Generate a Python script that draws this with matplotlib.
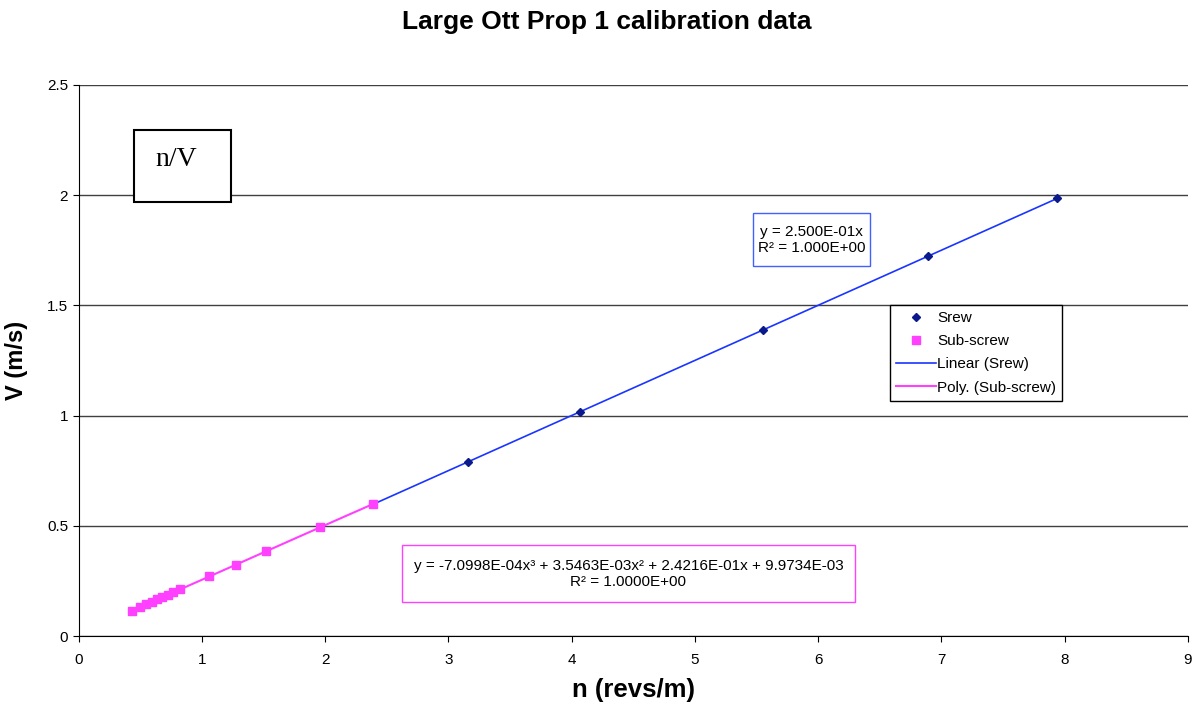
import numpy as np
import matplotlib
matplotlib.use("Agg")
import matplotlib.pyplot as plt
from matplotlib.patches import Rectangle

plt.rcParams['font.family'] = ['Liberation Sans', 'DejaVu Sans']

# Srew calibration points (n in revs/m, V in m/s)
srew_n = [2.39, 3.16, 4.07, 5.55, 6.89, 7.94]
srew_v = [0.598, 0.790, 1.017, 1.388, 1.723, 1.986]

# Sub-screw calibration points
sub_n = [0.43, 0.50, 0.55, 0.60, 0.64, 0.68, 0.73, 0.77, 0.82, 1.06, 1.28, 1.52, 1.96, 2.39]
sub_v = [0.115, 0.132, 0.144, 0.156, 0.166, 0.176, 0.188, 0.198, 0.211, 0.270, 0.324, 0.384, 0.493, 0.599]

lin_label = "y = 2.500E-01x\nR² = 1.000E+00"
poly_label = "y = -7.0998E-04x³ + 3.5463E-03x² + 2.4216E-01x + 9.9734E-03\nR² = 1.0000E+00"

fig = plt.figure(figsize=(11.94, 7.08), dpi=100)
ax = fig.add_axes([78.5 / 1194, 72 / 708, (1188 - 78.5) / 1194, (636 - 85) / 708])

# trendlines
sx = np.array(srew_n)
sy = np.array(srew_v)
slope = np.sum(sx * sy) / np.sum(sx * sx)
xl = np.linspace(sx.min(), sx.max(), 50)
ax.plot(xl, slope * xl, color='#1a35ff', lw=1.2, label='Linear (Srew)', zorder=2)

px = np.array(sub_n)
coef = np.polyfit(px, np.array(sub_v), 3)
xp = np.linspace(px.min(), px.max(), 100)
ax.plot(xp, np.polyval(coef, xp), color='#ff40ff', lw=1.5, label='Poly. (Sub-screw)', zorder=2)

ax.plot(srew_n, srew_v, 'D', color='#0a1a8c', ms=4.5, ls='none', label='Srew', zorder=3)
ax.plot(sub_n, sub_v, 's', color='#ff40ff', ms=6, ls='none', label='Sub-screw', zorder=4)

ax.set_xlim(0, 9)
ax.set_ylim(0, 2.5)
ax.set_xticks(range(0, 10))
ax.set_yticks([0, 0.5, 1, 1.5, 2, 2.5])
ax.set_yticklabels(['0', '0.5', '1', '1.5', '2', '2.5'])
ax.yaxis.grid(True, color='#404040', lw=1)
ax.set_axisbelow(True)
ax.spines['top'].set_visible(False)
ax.spines['right'].set_visible(False)
ax.tick_params(direction='out', length=4, labelsize=11, color='black')
ax.tick_params(axis='x', pad=8)

ax.set_xlabel('n (revs/m)', fontsize=18.5, fontweight='bold', labelpad=8)
ax.set_ylabel('V (m/s)', fontsize=17, fontweight='bold', labelpad=14)
fig.text(607 / 1194, 1 - 22 / 708, 'Large Ott Prop 1 calibration data',
         ha='center', va='center', fontsize=19, fontweight='bold')

h, l = ax.get_legend_handles_labels()
order = [2, 3, 0, 1]
leg = ax.legend([h[i] for i in order], [l[i] for i in order],
                loc='upper left', bbox_to_anchor=(890 / 1194, 1 - 305 / 708),
                bbox_transform=fig.transFigure, fontsize=11, frameon=True,
                fancybox=False, edgecolor='black', framealpha=1,
                handlelength=2.6, handletextpad=0.1, borderpad=0.4,
                labelspacing=0.6, borderaxespad=0)
leg.get_frame().set_linewidth(1)

# equation boxes
def box(x0, y0, x1, y1, ec):
    fig.patches.append(Rectangle((x0 / 1194, 1 - y1 / 708), (x1 - x0) / 1194, (y1 - y0) / 708,
                                 transform=fig.transFigure, fill=True, fc='white',
                                 ec=ec, lw=1, zorder=5))

box(753, 213, 870, 266, '#4060ff')
fig.text((753 + 870) / 2 / 1194, 1 - 240 / 708, lin_label, ha='center', va='center',
         fontsize=11, linespacing=1.25, zorder=6)
box(402, 545, 855, 602, '#ff40ff')
fig.text((402 + 855) / 2 / 1194, 1 - 574 / 708, poly_label, ha='center', va='center',
         fontsize=11, linespacing=1.25, zorder=6)

box(134, 130, 231, 202, 'black')
fig.patches[-1].set_linewidth(1.5)
fig.text(155 / 1194, 1 - 160 / 708, 'n/V', ha='left', va='center',
         fontsize=20, family=['Liberation Serif'], zorder=6)

fig.savefig('out.png', dpi=100)
